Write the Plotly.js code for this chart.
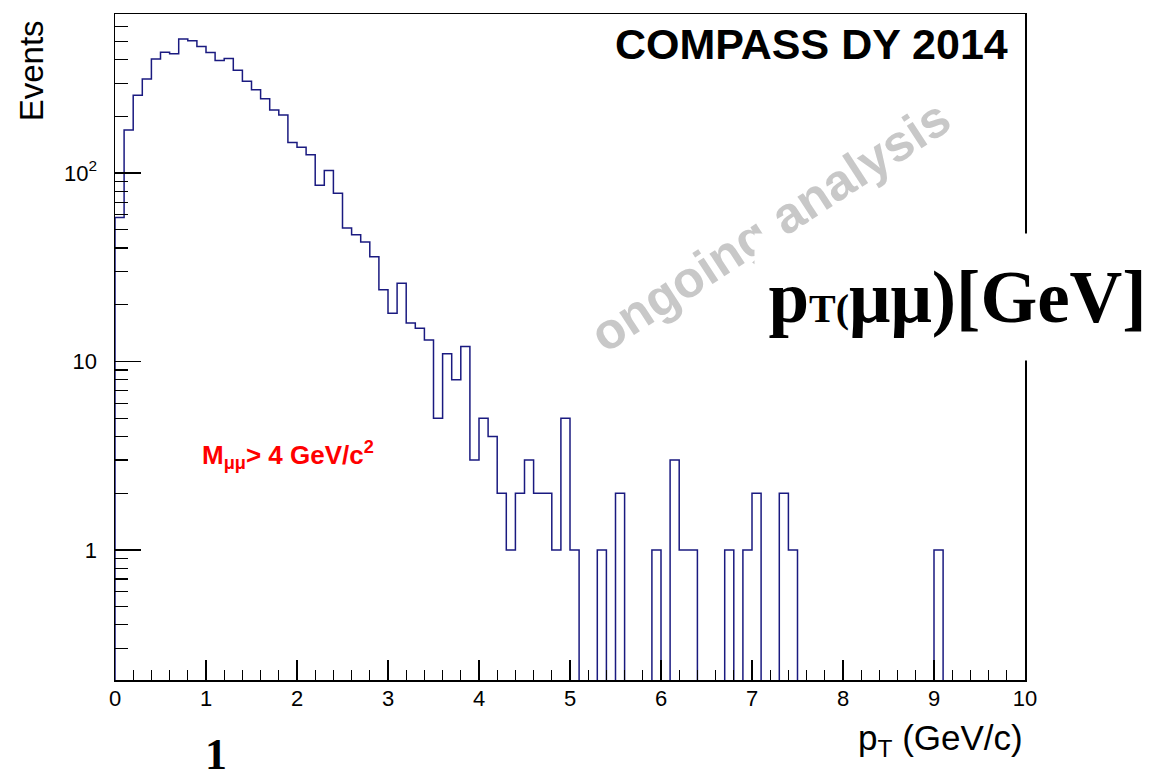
<!DOCTYPE html>
<html>
<head>
<meta charset="utf-8">
<script src="https://cdn.plot.ly/plotly-3.0.1.min.js"></script>
<style>html,body{margin:0;padding:0;background:#fff;}#chart{width:1153px;height:773px;}</style>
</head>
<body>
<div id="chart"></div>
<script>
// Histogram: pT of dimuon pairs, 100 bins of 0.1 GeV/c from 0 to 10
const binLow = 0;
const binWidth = 0.1;
const counts = [
  58, 169, 259, 315, 403, 437, 430, 514, 503, 469,
  436, 395, 405, 351, 307, 277, 248, 216, 203, 145,
  137, 125, 86, 103, 78, 51, 47, 43, 36, 24,
  18, 26, 16, 15, 13, 5, 11, 8, 12, 3,
  5, 4, 2, 1, 2, 3, 2, 2, 1, 5,
  1, 0, 0, 1, 0, 2, 0, 0, 0, 1,
  0, 3, 1, 1, 0, 0, 0, 1, 0, 1,
  2, 0, 0, 2, 1, 0, 0, 0, 0, 0,
  0, 0, 0, 0, 0, 0, 0, 0, 0, 0,
  1, 0, 0, 0, 0, 0, 0, 0, 0, 0
];
const xTickVals = [0,1,2,3,4,5,6,7,8,9,10];
const yTickVals = [1, 10, 100];
const yTickText = ["1", "10", "10<sup>2</sup>"];
const yMinorVals = [0.3,0.4,0.5,0.6,0.7,0.8,0.9,2,3,4,5,6,7,8,9,20,30,40,50,60,70,80,90,200,300,400,500,600];
const yMin = 0.204, yMax = 698;

// Step outline (empty bins fall below the log axis floor and are clipped)
const floorVal = 1e-3;
const xs = [binLow], ys = [floorVal];
counts.forEach((c, i) => {
  const lo = binLow + i * binWidth, hi = lo + binWidth;
  const v = c > 0 ? c : floorVal;
  xs.push(lo, hi); ys.push(v, v);
});
xs.push(binLow + counts.length * binWidth); ys.push(floorVal);

const sans = "Liberation Sans, Arial, Helvetica, sans-serif";
const serif = "Liberation Serif, Times New Roman, serif";

const trace = {
  x: xs, y: ys, type: "scatter", mode: "lines",
  line: {color: "#1a1a80", width: 1.5, shape: "linear"},
  hoverinfo: "skip", showlegend: false
};

const layout = {
  width: 1153, height: 773,
  margin: {l: 115, r: 128, t: 14, b: 93, pad: 0},
  paper_bgcolor: "#fff", plot_bgcolor: "#fff",
  showlegend: false,
  xaxis: {
    range: [0, 10], showgrid: false, zeroline: false,
    showline: true, linecolor: "#000", linewidth: 1.5, mirror: true,
    ticks: "inside", ticklen: 20, tickwidth: 1.2, tickcolor: "#000",
    tickmode: "array", tickvals: xTickVals,
    tickfont: {family: sans, size: 22, color: "#000"},
    ticklabelstandoff: -2,
    minor: {dtick: 0.2, tick0: 0, ticks: "inside", ticklen: 10, tickwidth: 1.2, tickcolor: "#000", showgrid: false}
  },
  yaxis: {
    type: "log", range: [Math.log10(yMin), Math.log10(yMax)],
    showgrid: false, zeroline: false,
    showline: true, linecolor: "#000", linewidth: 1.5, mirror: true,
    ticks: "inside", ticklen: 26, tickwidth: 1.2, tickcolor: "#000",
    tickmode: "array", tickvals: yTickVals, ticktext: yTickText,
    tickfont: {family: sans, size: 22, color: "#000"},
    ticklabelstandoff: 12,
    minor: {tickmode: "array", tickvals: yMinorVals, ticks: "inside", ticklen: 13, tickwidth: 1.2, tickcolor: "#000", showgrid: false}
  },
  annotations: [
    {xref: "paper", yref: "paper", x: -0.0923, y: 0.914, xanchor: "center", yanchor: "middle",
     text: "Events", textangle: -90, showarrow: false,
     font: {family: sans, size: 33, color: "#000"}},
    {xref: "paper", yref: "paper", x: 1.0, y: -0.09, xanchor: "right", yanchor: "middle",
     text: "p<sub>T</sub> (GeV/c)", showarrow: false,
     font: {family: sans, size: 35, color: "#000"}},
    {xref: "paper", yref: "paper", x: 0.9835, y: 0.955, xanchor: "right", yanchor: "middle",
     text: "<b>COMPASS DY 2014</b>", showarrow: false,
     font: {family: sans, size: 43, color: "#000"}},
    {xref: "paper", yref: "paper", x: 0.0934, y: 0.338, xanchor: "left", yanchor: "middle",
     text: "<b>M<sub>μμ</sub>> 4 GeV/c<sup>2</sup></b>", showarrow: false,
     font: {family: sans, size: 26, color: "#ff0000"}},
    {xref: "paper", yref: "paper", x: 0.7205, y: 0.6817, xanchor: "center", yanchor: "middle",
     text: "<b>ongoing analysis</b>", textangle: -33, showarrow: false,
     font: {family: sans, size: 51, color: "#c8c8c8"}},
    {xref: "paper", yref: "paper", x: 0.9253, y: 0.5751, xanchor: "center", yanchor: "middle",
     width: 405, height: 126, bgcolor: "#ffffff", borderpad: 0, align: "center", valign: "middle",
     text: "<b>p<span style=\"font-size:40px\">T(</span>μμ)[GeV]</b>", showarrow: false,
     font: {family: serif, size: 73, color: "#000"}},
    {xref: "paper", yref: "paper", x: 0.111, y: -0.112, xanchor: "center", yanchor: "middle",
     text: "<b>1</b>", showarrow: false,
     font: {family: serif, size: 44, color: "#000"}}
  ]
};

Plotly.newPlot("chart", [trace], layout, {displayModeBar: false, staticPlot: true});
</script>
</body>
</html>
